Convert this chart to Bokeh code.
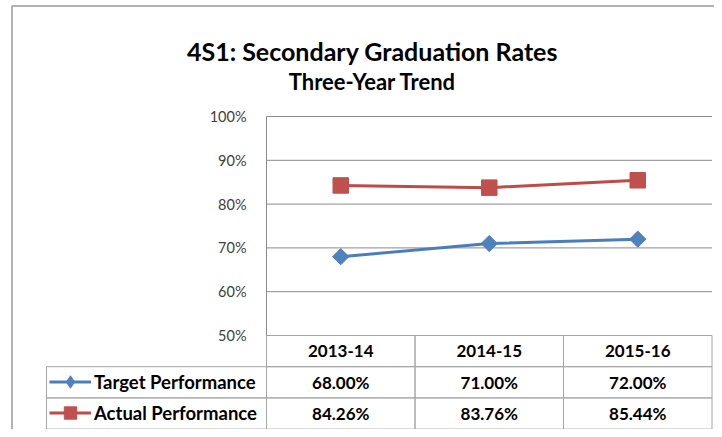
import numpy as np
from bokeh.plotting import figure
from bokeh.models import (Range1d, Legend, LegendItem, Label, BoxAnnotation,
                          ColumnDataSource)
from bokeh.core.properties import value
from bokeh.embed import file_html
from bokeh.resources import INLINE

# ---- data ----
title_lines = ["4S1: Secondary Graduation Rates", "Three-Year Trend"]
years = ["2013-14", "2014-15", "2015-16"]
target = [0.68, 0.71, 0.72]
actual = [0.8426, 0.8376, 0.8544]
series_names = ["Target Performance", "Actual Performance"]
y_ticks = [0.5, 0.6, 0.7, 0.8, 0.9, 1.0]
y_tick_labels = ["50%", "60%", "70%", "80%", "90%", "100%"]

# ---- layout constants (canvas pixels -> data space) ----
W, H = 714, 429
FONT = "Lato"
X0_PX, COL_PX = 266.0, 148.5      # left edge of plot area, px per category
Y1_PX, UNIT_PX = 116.0, 438.0     # pixel row of 100%, px per 1.0 of value
ROW_H = 31.2 / UNIT_PX            # data-table row height (value units)


def dx(px):  # horizontal pixel distance -> x units
    return px / COL_PX


def dy(px):  # vertical pixel distance -> y units
    return px / UNIT_PX


x_range = Range1d(-dx(X0_PX), dx(W - X0_PX))
y_range = Range1d(1.0 - dy(H - Y1_PX), 1.0 + dy(Y1_PX))

BLUE_L, BLUE_F = "#4a7ebb", "#4f81bd"
RED_L, RED_F = "#be4b48", "#c0504d"
GRID = "#8a8a8a"
CELL = "#a6a6a6"

p = figure(width=W, height=H, x_range=x_range, y_range=y_range,
           output_backend="svg", toolbar_location=None,
           x_axis_location=None, y_axis_location=None,
           min_border=0, min_border_left=0, min_border_right=0,
           min_border_top=0, min_border_bottom=0)
p.outline_line_color = None
p.grid.visible = False
p.background_fill_color = "white"
p.border_fill_color = "white"

n = len(years)
xs = [i + 0.5 for i in range(n)]
y_lo = min(y_ticks)
table_bottom = y_lo - 3 * ROW_H

# gridlines across the plot area at each tick
p.segment(x0=[0] * len(y_ticks), x1=[n] * len(y_ticks), y0=y_ticks, y1=y_ticks,
          line_color=GRID, line_width=1)
# left edge of plot area (continues as the table's column boundary)
p.segment(x0=[0], x1=[0], y0=[table_bottom], y1=[max(y_ticks)],
          line_color=GRID, line_width=1)
# y tick labels
p.text(x=[-dx(20)] * len(y_ticks), y=y_ticks, text=y_tick_labels,
       text_align="right", text_baseline="middle",
       text_font=value(FONT), text_font_size="14.5px", text_color="#404040")

# series
src_t = ColumnDataSource(dict(x=xs, y=target))
src_a = ColumnDataSource(dict(x=xs, y=actual))
lt = p.line("x", "y", source=src_t, line_color=BLUE_L, line_width=3)
mt = p.scatter("x", "y", source=src_t, marker="square", angle=np.pi / 4, size=11.5,
               fill_color=BLUE_F, line_color=BLUE_F)
la = p.line("x", "y", source=src_a, line_color=RED_L, line_width=3)
ma = p.scatter("x", "y", source=src_a, marker="square", size=15.5,
               fill_color=RED_F, line_color=RED_F)
# hidden diamond renderer used only as the legend key of the target series
key_t = p.scatter("x", "y", source=src_t, marker="diamond",
                  fill_color=BLUE_F, line_color=BLUE_F, visible=False)

# data table cells
rows_text = [years,
             [f"{v * 100:.2f}%" for v in target],
             [f"{v * 100:.2f}%" for v in actual]]
cx, cy, ct = [], [], []
for r, row in enumerate(rows_text):
    for i, t in enumerate(row):
        cx.append(xs[i])
        cy.append(y_lo - (r + 0.5) * ROW_H)
        ct.append(t)
cells = ColumnDataSource(dict(x=cx, y=cy, t=ct))
p.rect("x", "y", source=cells, width=1, height=ROW_H, fill_color=None,
       line_color=CELL, line_width=1)
p.text("x", "y", text="t", source=cells, text_align="center", text_baseline="middle",
       text_font=value(FONT), text_font_style="bold", text_font_size="17px",
       text_color="black")

# legend column of the data table (series-name cells)
LEFT_W = dx(220)
p.rect(x=[-LEFT_W / 2] * 2, y=[y_lo - 1.5 * ROW_H, y_lo - 2.5 * ROW_H],
       width=LEFT_W, height=ROW_H, fill_color=None, line_color=CELL, line_width=1)

legend = Legend(items=[LegendItem(label=series_names[0], renderers=[lt, key_t]),
                       LegendItem(label=series_names[1], renderers=[la, ma])],
                location=(49, 1), orientation="vertical",
                padding=0, margin=0, spacing=0,
                glyph_width=42, glyph_height=31, label_height=31, label_standoff=3,
                label_text_font=FONT, label_text_font_style="bold",
                label_text_font_size="18.5px", label_text_color="black",
                background_fill_alpha=0, border_line_color=None)
p.add_layout(legend)

# title (two centred lines)
title_x = dx(372 - X0_PX)
title_sizes = ["25px", "22px"]
for k, line in enumerate(title_lines):
    p.add_layout(Label(x=title_x, y=1.0 + dy(Y1_PX - 50 - 31 * k), text=line,
                       text_align="center", text_baseline="alphabetic",
                       text_font=FONT, text_font_style="bold",
                       text_font_size=title_sizes[k], text_color="black"))

# outer chart border (left & top edges visible)
p.add_layout(BoxAnnotation(left=-dx(X0_PX - 11.5), right=dx(W + 20),
                           top=1.0 + dy(Y1_PX - 5.5), bottom=-5,
                           fill_color=None, fill_alpha=0,
                           line_color="black", line_width=2))

open("out.html", "w").write(file_html(p, INLINE))
